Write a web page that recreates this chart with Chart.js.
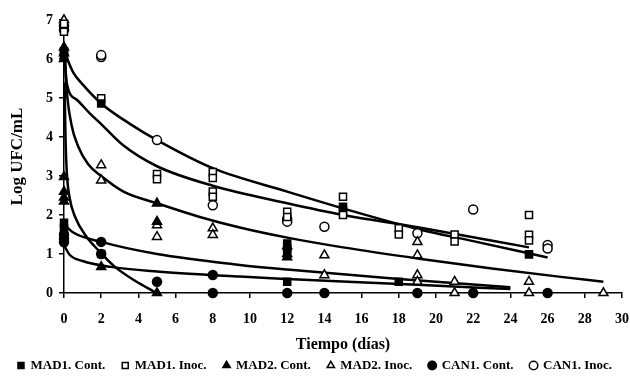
<!DOCTYPE html>
<html>
<head>
<meta charset="utf-8">
<script src="https://cdn.jsdelivr.net/npm/chart.js@4.4.1/dist/chart.umd.min.js"></script>
<style>
  body { margin: 0; background: #fff; }
  #wrap { width: 630px; height: 377px; }
</style>
</head>
<body>
<div id="wrap"><canvas id="chart" width="630" height="377"></canvas></div>
<script>
'use strict';
// x ticks and y ticks
const xTicks = [0, 2, 4, 6, 8, 10, 12, 14, 16, 18, 20, 22, 24, 26, 28, 30];
const yTicks = [0, 1, 2, 3, 4, 5, 6, 7];

// measured points (x = days, y = log UFC/mL)
const mad1ContX = [0, 0, 0, 0, 2, 2, 12, 12, 12, 12, 15, 18, 25];
const mad1ContY = [6.2, 6.1, 1.8, 1.65, 4.86, 1.0, 1.27, 1.14, 1.02, 0.29, 2.21, 0.29, 0.99];

const mad1InocX = [0, 0, 2, 5, 5, 8, 8, 8, 8, 12, 12, 15, 15, 15, 18, 18, 21, 21, 25, 25, 25];
const mad1InocY = [6.9, 6.7, 4.99, 3.05, 2.92, 3.1, 2.95, 2.6, 2.47, 2.08, 1.95, 2.47, 2.13, 2.0, 1.66, 1.5, 1.5, 1.32, 2.0, 1.49, 1.35];

const mad2ContX = [0, 0, 0, 0, 0, 0, 0, 2, 5, 5, 5, 12, 12];
const mad2ContY = [6.3, 6.15, 6.0, 2.98, 2.6, 2.45, 2.35, 0.67, 2.3, 1.83, 0, 1.2, 0.92];

const mad2InocX = [0, 2, 2, 5, 5, 8, 8, 12, 14, 14, 19, 19, 19, 19, 21, 21, 25, 25, 29];
const mad2InocY = [7.0, 3.28, 2.89, 1.74, 1.44, 1.66, 1.49, 1.0, 0.97, 0.46, 1.31, 0.97, 0.46, 0.29, 0.29, 0, 0.29, 0, 0];

const can1ContX = [0, 0, 0, 2, 2, 5, 8, 8, 12, 14, 19, 22, 26];
const can1ContY = [1.5, 1.4, 1.3, 1.31, 1.0, 0.29, 0.46, 0, 0, 0, 0, 0, 0];

const can1InocX = [0, 0, 2, 2, 5, 8, 12, 12, 14, 19, 22, 26, 26];
const can1InocY = [6.85, 6.75, 6.05, 6.1, 3.92, 2.25, 1.9, 1.83, 1.7, 1.53, 2.14, 1.23, 1.14];

// fitted curves
const fit1X = [0.05, 0.5, 1, 2, 3.5, 5, 8, 12, 15, 19.1, 22, 26];
const fit1Y = [6.15, 5.65, 5.35, 4.86, 4.35, 3.92, 3.2, 2.6, 2.17, 1.63, 1.33, 0.91];

const fit2X = [0.03, 0.14, 0.7, 1.4, 2, 3.2, 5, 8, 12, 15, 19.1, 25];
const fit2Y = [6.1, 5.4, 4.95, 4.6, 4.33, 3.78, 3.25, 2.75, 2.3, 2.0, 1.68, 1.17];

const fit3X = [0.05, 0.14, 0.4, 0.77, 1.3, 2, 3.2, 5, 7.3, 9.45, 12, 15, 19.1, 23, 26.6, 29];
const fit3Y = [6.1, 5.25, 4.32, 3.75, 3.3, 3.0, 2.6, 2.3, 1.95, 1.68, 1.42, 1.17, 0.88, 0.63, 0.42, 0.29];

const fit4X = [0.03, 0.08, 0.15, 0.3, 0.6, 1.2, 1.84, 2.74, 3.8, 4.97];
const fit4Y = [5.4, 4.0, 3.1, 2.45, 1.95, 1.45, 1.1, 0.67, 0.32, 0];

const fit5X = [0.03, 0.5, 2, 5, 9.45, 12, 18, 24];
const fit5Y = [1.75, 1.55, 1.31, 1.0, 0.72, 0.6, 0.36, 0.15];

const fit6X = [0.03, 0.3, 1, 2.5, 5, 9.45, 12, 19, 24];
const fit6Y = [1.2, 0.98, 0.82, 0.67, 0.55, 0.42, 0.36, 0.21, 0.1];

const toPoints = (xs, ys) => xs.map((x, i) => ({ x: x, y: ys[i] }));

const font = 'Liberation Serif, Times New Roman, serif';

function markers(label, xs, ys, style, filled, radius) {
  return {
    label: label,
    data: toPoints(xs, ys),
    pointStyle: style,
    pointRadius: radius,
    pointHoverRadius: radius,
    pointBackgroundColor: filled ? '#000' : '#fff',
    pointBorderColor: '#000',
    pointBorderWidth: 1.5,
    backgroundColor: filled ? '#000' : '#fff',
    borderColor: '#000',
    borderWidth: 1.5,
    showLine: false,
    clip: false,
    order: 0
  };
}

function curve(xs, ys) {
  return {
    label: 'fit',
    data: toPoints(xs, ys),
    showLine: true,
    pointRadius: 0,
    borderColor: '#000',
    borderWidth: 2.5,
    cubicInterpolationMode: 'monotone',
    fill: false,
    order: 1
  };
}

const datasets = [
  markers('MAD1. Cont.', mad1ContX, mad1ContY, 'rect', true, 5),
  markers('MAD1. Inoc.', mad1InocX, mad1InocY, 'rect', false, 5),
  markers('MAD2. Cont.', mad2ContX, mad2ContY, 'triangle', true, 5.2),
  markers('MAD2. Inoc.', mad2InocX, mad2InocY, 'triangle', false, 5.2),
  markers('CAN1. Cont.', can1ContX, can1ContY, 'circle', true, 4.5),
  markers('CAN1. Inoc.', can1InocX, can1InocY, 'circle', false, 4.5),
  curve(fit1X, fit1Y),
  curve(fit2X, fit2Y),
  curve(fit3X, fit3Y),
  curve(fit4X, fit4Y),
  curve(fit5X, fit5Y),
  curve(fit6X, fit6Y)
];

const config = {
  type: 'scatter',
  data: { datasets: datasets },
  options: {
    responsive: false,
    devicePixelRatio: 1,
    animation: false,
    layout: { padding: { top: 20, right: 0, left: 0, bottom: -5 } },
    plugins: {
      tooltip: { enabled: false },
      legend: {
        position: 'bottom',
        labels: {
          usePointStyle: true,
          boxWidth: 6,
          boxHeight: 6,
          padding: 17,
          color: '#000',
          font: { family: font, size: 13, weight: 'bold' },
          filter: item => item.datasetIndex < 6
        }
      }
    },
    scales: {
      x: {
        type: 'linear',
        min: 0,
        max: 30,
        afterFit: scale => { scale.height = 49; scale.paddingRight = 8; },
        afterBuildTicks: scale => { scale.ticks = xTicks.map(v => ({ value: v })); },
        ticks: { color: '#000', padding: 13, font: { family: font, size: 14, weight: 'bold' } },
        grid: { drawOnChartArea: false, color: '#000', tickLength: 5, lineWidth: 1.5 },
        border: { color: '#000', width: 1.5 },
        title: {
          display: true,
          text: 'Tiempo (días)',
          color: '#000',
          padding: { top: 0, bottom: -12.6 },
          font: { family: font, size: 16, weight: 'bold' }
        }
      },
      y: {
        type: 'linear',
        min: 0,
        max: 7,
        afterFit: scale => { scale.width = 64; },
        afterBuildTicks: scale => { scale.ticks = yTicks.map(v => ({ value: v })); },
        ticks: { color: '#000', padding: 6, font: { family: font, size: 14, weight: 'bold' } },
        grid: { drawOnChartArea: false, color: '#000', tickLength: 5, lineWidth: 1.5 },
        border: { color: '#000', width: 1.5 },
        title: {
          display: true,
          text: 'Log UFC/mL',
          color: '#000',
          padding: { top: 7, bottom: 0 },
          font: { family: font, size: 17, weight: 'bold' }
        }
      }
    }
  }
};

const canvasElem = document.getElementById('chart');
const myChart = new Chart(canvasElem, config);
</script>
</body>
</html>
